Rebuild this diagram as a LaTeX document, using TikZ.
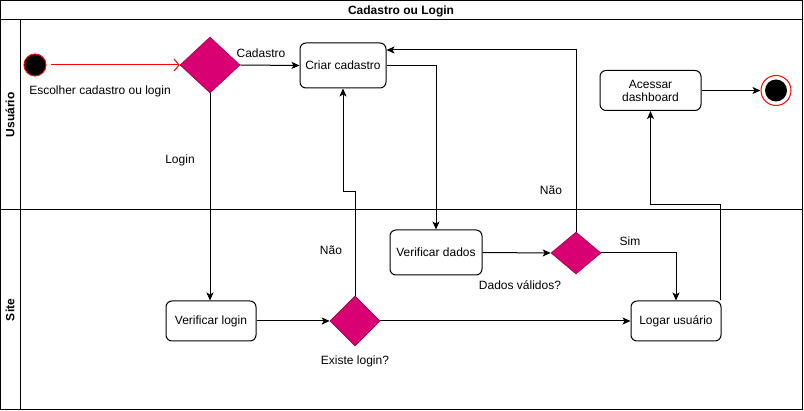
\documentclass[tikz,border=0pt]{standalone}
\usepackage{fontspec}
\setmainfont{Liberation Sans}
\usetikzlibrary{arrows.meta,shapes.geometric}
\definecolor{mag}{HTML}{D80073}
\definecolor{magline}{HTML}{A50040}
\begin{document}
\begin{tikzpicture}[x=1pt,y=-1pt,line width=1pt,
  txt/.style={font=\fontsize{12}{14}\selectfont},
  act/.style={txt,draw,rounded corners=6pt,align=center,inner sep=0pt},
  dec/.style={diamond,draw=magline,fill=mag,inner sep=0pt,line width=0.6pt},
  arr/.style={-{Stealth[length=8pt,width=7pt,inset=2pt]}},
  lanelbl/.style={font=\fontsize{12}{14}\selectfont\bfseries,rotate=90}]
\useasboundingbox (0,0) rectangle (804,411);
% pool frame
\draw (0.5,0.5) rectangle (802,410);
\draw (0.5,20) -- (802,20);
\draw (20,20) -- (20,410);
\draw (0.5,210) -- (802,210);
\node[font=\fontsize{12}{14}\selectfont\bfseries] (title) at (401,11) {Cadastro ou Login};
\node[lanelbl] (laneU) at (10,115) {Usuário};
\node[lanelbl] (laneS) at (10,310) {Site};
% nodes
\node[circle,fill=black,draw=red,minimum size=22pt,inner sep=0pt] (start) at (35,65) {};
\node[dec,minimum width=60pt,minimum height=56pt] (d1) at (210,65) {};
\node[act,minimum width=86pt,minimum height=45pt] (cc) at (343,65.5) {Criar cadastro};
\node[act,minimum width=90pt,minimum height=40pt] (vl) at (211,321) {Verificar login};
\node[dec,minimum width=50pt,minimum height=50pt] (d2) at (355,321) {};
\node[act,minimum width=92pt,minimum height=45pt] (vd) at (436,252.5) {Verificar dados};
\node[dec,minimum width=50pt,minimum height=42pt] (d3) at (576,253) {};
\node[act,minimum width=90pt,minimum height=40pt] (lu) at (676,321) {Logar usuário};
\node[act,minimum width=101pt,minimum height=40pt,text width=90pt] (ad) at (650.5,90.5) {Acessar\\[-1pt]dashboard};
\node[circle,draw=red,fill=white,minimum size=30pt,inner sep=0pt] (end) at (776,90.5) {};
\node[circle,fill=black,minimum size=22pt,inner sep=0pt] (endin) at (end) {};
% labels
\node[txt] (l1) at (100,91) {Escolher cadastro ou login};
\node[txt] (l2) at (261,53) {Cadastro};
\node[txt] (l3) at (180,160) {Login};
\node[txt] (l4) at (331,250) {Não};
\node[txt] (l5) at (355,361) {Existe login?};
\node[txt] (l6) at (551,190) {Não};
\node[txt] (l7) at (520,285) {Dados válidos?};
\node[txt] (l8) at (630,241) {Sim};
% coordinates
\coordinate (k1) at (355,192);
\coordinate (k2) at (576,50);
\coordinate (k3) at (720,205);
% edges
\draw[red,-{Straight Barb[length=5pt,width=12pt]},shorten <=4pt] (start.east) -- (d1.west);
\draw[arr] (d1.east) -- (cc.west);
\draw[arr] (d1.south) -- (d1.south |- vl.north);
\draw[arr] (vl.east) -- (d2.west);
\draw[arr] (d2.north) -- (k1) -| (cc.south);
\draw[arr] (d2.east) -- (lu.west);
\draw[arr] (cc.east) -| (vd.north);
\draw[arr] (vd.east) -- (d3.west);
\draw[arr] (d3.east) -| (lu.north);
\draw[arr] (d3.north) -- (k2) -- (k2 -| cc.east);
\draw[arr] (lu.north east -| k3) -- (k3) -| (ad.south);
\draw[arr] (ad.east) -- (end.west);
\end{tikzpicture}
\end{document}
